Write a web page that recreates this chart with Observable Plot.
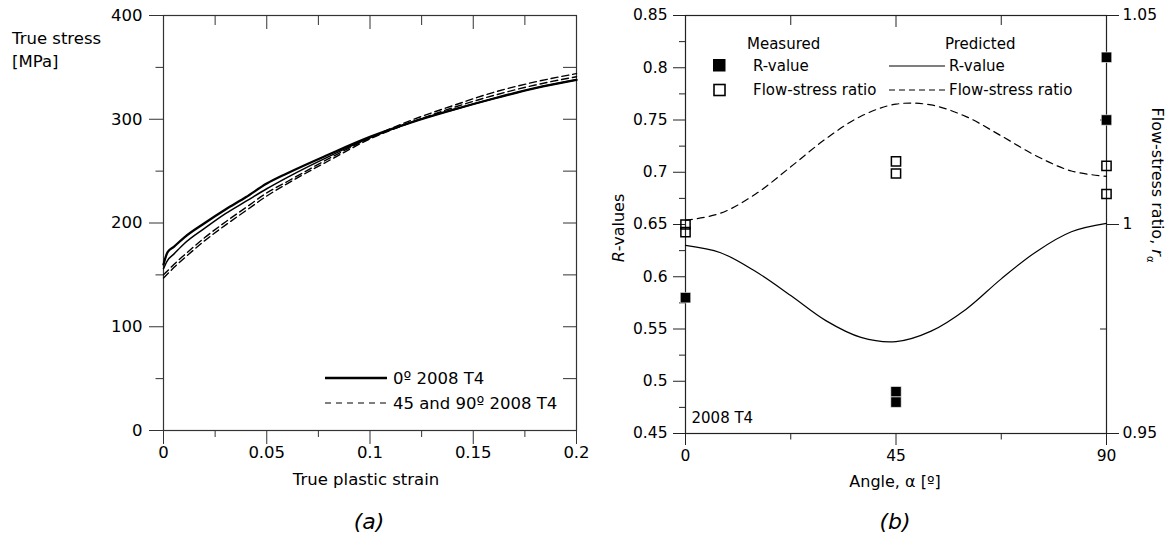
<!DOCTYPE html>
<html><head><meta charset="utf-8">
<script src="https://cdn.jsdelivr.net/npm/d3@7"></script>
<script src="https://cdn.jsdelivr.net/npm/@observablehq/plot@0.6"></script>
<style>
body{margin:0;background:#fff;font-family:"DejaVu Sans",sans-serif;color:#000}
#root{position:relative;width:1169px;height:543px;overflow:hidden;background:#fff}
.abs{position:absolute;white-space:nowrap;line-height:1;color:#000}
</style></head><body><div id="root"></div>
<script>
// ---------- Panel (a): true stress vs true plastic strain ----------
const strain = [0, 0.002, 0.005, 0.01, 0.02, 0.03, 0.04, 0.05, 0.06, 0.08, 0.1, 0.12, 0.14, 0.16, 0.18, 0.2];
const stress0A = [160, 172, 177, 186, 200, 213, 225, 238, 248, 266, 283, 297, 309, 320, 330, 338];
const stress0B = [156, 164, 170, 180, 195, 209, 221, 233, 244, 264, 282, 297, 309, 320, 330, 338];
const stress45 = [150, 154, 160, 169, 186, 201, 215, 229, 240, 262, 282, 299, 313, 326, 336, 344];
const stress90 = [147, 151, 157, 166, 183, 198, 212, 226, 238, 260, 281, 297, 311, 323, 333, 341];
const stressTicks = [0, 100, 200, 300, 400];
const stressMinor = [50, 150, 250, 350];
const strainTicks = [0, 0.05, 0.1, 0.15, 0.2];
const strainMinor = [0.025, 0.075, 0.125, 0.175];

// ---------- Panel (b): R-values and flow-stress ratio vs angle ----------
const angleR = [0, 45, 45, 90, 90];
const rMeasured = [0.58, 0.49, 0.48, 0.81, 0.75];
const angleF = [0, 0, 45, 45, 90, 90];
const ratioMeasured = [1.0, 0.9982, 1.0151, 1.0122, 1.014, 1.0073];
const anglePred = [0, 7.5, 15, 22.5, 30, 37.5, 45, 52.5, 60, 67.5, 75, 82.5, 90];
const rPred = [0.630, 0.623, 0.605, 0.582, 0.558, 0.542, 0.538, 0.548, 0.569, 0.598, 0.624, 0.643, 0.651];
const ratioPred = [1.001, 1.0027, 1.0073, 1.0138, 1.0205, 1.0259, 1.0288, 1.0286, 1.0258, 1.0212, 1.0164, 1.0128, 1.0115];
const rTicks = [0.45, 0.5, 0.55, 0.6, 0.65, 0.7, 0.75, 0.8, 0.85];
const rMinor = [0.475, 0.525, 0.575, 0.625, 0.675, 0.725, 0.775, 0.825];
const ratioTicks = [0.95, 1, 1.05];
const ratioMinor = [0.975, 1.025];
const angleTicks = [0, 45, 90];
const angleMinor = [22.5, 67.5];

const FONT = "DejaVu Sans";
const fmt = d3.format("~g");
const root = document.getElementById("root");

// ---------- build panel (a) ----------
const H = 500;
const WA = 600, mA = {top: 15, right: 24, bottom: 70, left: 163};
const pwA = WA - mA.left - mA.right, phA = H - mA.top - mA.bottom;
const rows = ys => strain.map((x, i) => ({x, y: ys[i]}));
const plotA = Plot.plot({
  width: WA, height: H,
  marginTop: mA.top, marginRight: mA.right, marginBottom: mA.bottom, marginLeft: mA.left,
  style: {fontFamily: FONT, fontSize: "16.5px", color: "#000", background: "transparent", overflow: "visible"},
  x: {domain: [0, 0.2]},
  y: {domain: [0, 400]},
  marks: [
    Plot.frame({stroke: "#333", strokeWidth: 1.2}),
    Plot.axisX({ticks: strainTicks, tickSize: 14, tickPadding: 2, tickFormat: fmt, fontSize: 16.5, label: null, stroke: "#333"}),
    Plot.axisX({ticks: strainMinor, tickSize: 7, tickFormat: () => "", label: null, stroke: "#333"}),
    Plot.tickX(strainTicks, {x: d => d, insetBottom: phA - 14, stroke: "#333"}),
    Plot.tickX(strainMinor, {x: d => d, insetBottom: phA - 10, stroke: "#333"}),
    Plot.axisY({ticks: stressTicks, tickSize: 14, tickPadding: 7, tickFormat: fmt, fontSize: 16.5, label: null, stroke: "#333"}),
    Plot.axisY({ticks: stressMinor, tickSize: 7.5, tickFormat: () => "", label: null, stroke: "#333"}),
    Plot.tickY(stressTicks.concat(stressMinor), {y: d => d, insetLeft: pwA - 13, stroke: "#333"}),
    Plot.line(rows(stress90), {x: "x", y: "y", stroke: "#000", strokeWidth: 1.4, strokeDasharray: "7,4", curve: "monotone-x"}),
    Plot.line(rows(stress45), {x: "x", y: "y", stroke: "#000", strokeWidth: 1.4, strokeDasharray: "7,4", curve: "monotone-x"}),
    Plot.line(rows(stress0B), {x: "x", y: "y", stroke: "#000", strokeWidth: 1.5, curve: "monotone-x"}),
    Plot.line(rows(stress0A), {x: "x", y: "y", stroke: "#000", strokeWidth: 2.3, curve: "monotone-x"})
  ]
});
const divA = document.createElement("div");
divA.style.cssText = "position:absolute;left:0;top:0";
divA.appendChild(plotA);
root.appendChild(divA);

// ---------- build panel (b) ----------
const OX = 590;
const WB = 579, mB = {top: 15, right: 63, bottom: 67, left: 95};
const pwB = WB - mB.left - mB.right, phB = H - mB.top - mB.bottom;
const R0 = 0.45, F0 = 0.95;
const fromRatio = f => R0 + (f - F0) * 4;   // right axis (0.95–1.05) onto left axis (0.45–0.85)
const toRatio = r => F0 + (r - R0) / 4;
const predRows = anglePred.map((a, i) => ({a, r: rPred[i], f: fromRatio(ratioPred[i])}));
const rRows = angleR.map((a, i) => ({a, v: rMeasured[i]}));
const fRows = angleF.map((a, i) => ({a, v: fromRatio(ratioMeasured[i])}));
const plotB = Plot.plot({
  width: WB, height: H,
  marginTop: mB.top, marginRight: mB.right, marginBottom: mB.bottom, marginLeft: mB.left,
  style: {fontFamily: FONT, fontSize: "15.5px", color: "#000", background: "transparent", overflow: "visible"},
  x: {domain: [0, 90]},
  y: {domain: [0.45, 0.85]},
  marks: [
    Plot.frame({stroke: "#222", strokeWidth: 1.2}),
    Plot.axisX({ticks: angleTicks, tickSize: 12, tickPadding: 4, tickFormat: fmt, fontSize: 15.5, label: null, stroke: "#222"}),
    Plot.axisX({ticks: angleMinor, tickSize: 6.5, tickFormat: () => "", label: null, stroke: "#222"}),
    Plot.tickX([45], {x: d => d, insetBottom: phB - 12, stroke: "#222"}),
    Plot.tickX(angleMinor, {x: d => d, insetBottom: phB - 10, stroke: "#222"}),
    Plot.axisY({ticks: rTicks, tickSize: 12, tickPadding: 6, tickFormat: fmt, fontSize: 15.5, label: null, stroke: "#222"}),
    Plot.axisY({ticks: rMinor, tickSize: 6, tickFormat: () => "", label: null, stroke: "#222"}),
    Plot.axisY({anchor: "right", ticks: ratioTicks.map(fromRatio), tickSize: 12, tickPadding: 4, tickFormat: d => fmt(+toRatio(d).toFixed(4)), fontSize: 15.5, label: null, stroke: "#222"}),
    Plot.tickY(ratioMinor.map(fromRatio), {y: d => d, insetLeft: pwB - 6, stroke: "#222"}),
    Plot.line(predRows, {x: "a", y: "r", stroke: "#000", strokeWidth: 1.2, curve: "catmull-rom"}),
    Plot.line(predRows, {x: "a", y: "f", stroke: "#000", strokeWidth: 1.2, strokeDasharray: "7,5", curve: "catmull-rom"}),
    Plot.dot(fRows, {x: "a", y: "v", symbol: "square", r: 5.2, fill: "none", stroke: "#000", strokeWidth: 1.5}),
    Plot.dot(rRows, {x: "a", y: "v", symbol: "square", r: 5.9, fill: "#000", stroke: "#fff", strokeWidth: 0.6}),
    Plot.text(["2008 T4"], {frameAnchor: "bottom-left", dx: 6, dy: -11, textAnchor: "start", fontSize: 15})
  ]
});
const divB = document.createElement("div");
divB.style.cssText = `position:absolute;left:${OX}px;top:0`;
divB.appendChild(plotB);
root.appendChild(divB);

// ---------- titles, captions ----------
function label(html, x, y, css = "", rot = 0) {
  const d = document.createElement("div");
  d.className = "abs";
  d.innerHTML = html;
  d.style.cssText += `left:${x}px;top:${y}px;transform:translate(-50%,-50%) rotate(${rot}deg);${css}`;
  root.appendChild(d);
  return d;
}
function labelLeft(html, x, y, css = "") {
  const d = document.createElement("div");
  d.className = "abs";
  d.innerHTML = html;
  d.style.cssText += `left:${x}px;top:${y}px;transform:translate(0,-50%);${css}`;
  root.appendChild(d);
  return d;
}
labelLeft("True stress", 12, 39, "font-size:16.5px");
labelLeft("[MPa]", 12, 62, "font-size:16.5px");
label("True plastic strain", 366, 480, "font-size:16.5px");
label("(a)", 369, 522, "font-size:22px;font-style:italic");

label("<i>R</i>-values", 619, 228, "font-size:16px", -90);
label("Flow-stress ratio, <i>r</i><sub style='font-size:10px'>&alpha;</sub>", 1155, 185, "font-size:16px", 90);
label("Angle, &alpha; [&ordm;]", 895, 482, "font-size:16px");
label("(b)", 895, 522, "font-size:22px;font-style:italic");

// ---------- legends (overlay svg) ----------
const ns = "http://www.w3.org/2000/svg";
const leg = document.createElementNS(ns, "svg");
leg.setAttribute("width", 1169); leg.setAttribute("height", 543);
leg.style.cssText = "position:absolute;left:0;top:0;pointer-events:none";
root.appendChild(leg);
function el(tag, attrs) {
  const e = document.createElementNS(ns, tag);
  for (const k in attrs) e.setAttribute(k, attrs[k]);
  leg.appendChild(e); return e;
}
function txt(s, x, y, size) {
  const t = el("text", {x, y, "font-family": FONT, "font-size": size, "dominant-baseline": "central", fill: "#000"});
  t.textContent = s; return t;
}
// panel (a) legend
el("line", {x1: 325, x2: 387, y1: 378, y2: 378, stroke: "#000", "stroke-width": 2.5});
txt("0º 2008 T4", 393, 378, 16.5);
el("line", {x1: 325, x2: 387, y1: 403, y2: 403, stroke: "#000", "stroke-width": 1.2, "stroke-dasharray": "6,5"});
txt("45 and 90º 2008 T4", 393, 403, 16.5);
// panel (b) legend
txt("Measured", 747, 44, 15);
txt("Predicted", 945, 44, 15);
el("rect", {x: 713, y: 59, width: 12.5, height: 12.5, fill: "#000"});
txt("R-value", 753, 66, 15);
el("rect", {x: 714, y: 84.5, width: 11, height: 11, fill: "none", stroke: "#000", "stroke-width": 1.6});
txt("Flow-stress ratio", 753, 90, 15);
el("line", {x1: 889, x2: 945, y1: 66, y2: 66, stroke: "#000", "stroke-width": 1.2});
txt("R-value", 949, 66, 15);
el("line", {x1: 889, x2: 945, y1: 90, y2: 90, stroke: "#000", "stroke-width": 1.2, "stroke-dasharray": "6,4"});
txt("Flow-stress ratio", 949, 90, 15);
</script></body></html>
